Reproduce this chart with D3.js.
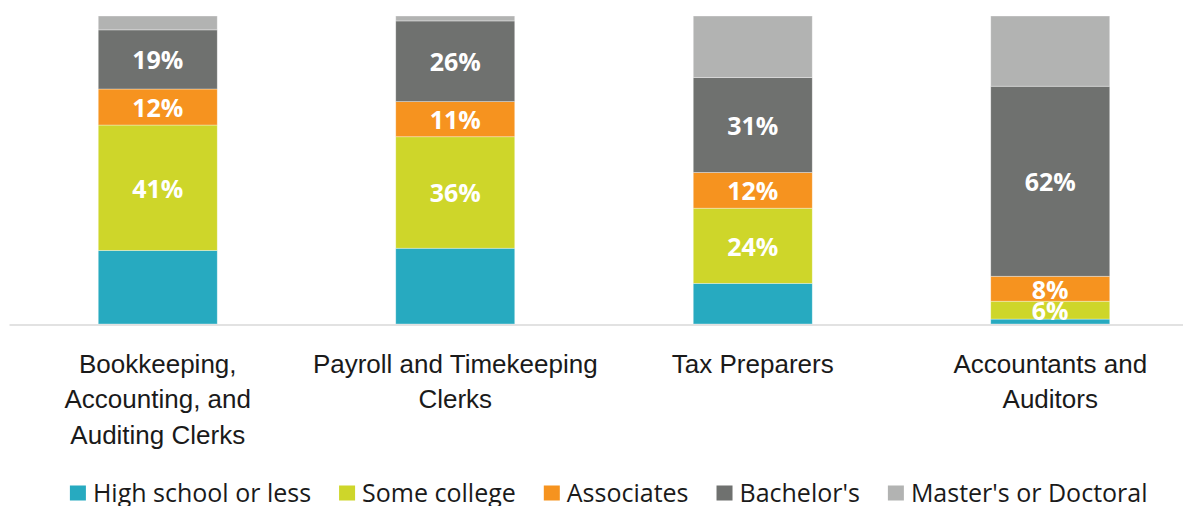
<!DOCTYPE html>
<html>
<head>
<meta charset="utf-8">
<script src="https://cdn.jsdelivr.net/npm/d3@7"></script>
<style>
  body { margin: 0; background: #fff; }
  svg { display: block; font-family: "Open Sans", sans-serif; }
</style>
</head>
<body>
<div id="chart"></div>
<script>
// chart values (percent of workers)
const categories = ["Bookkeeping, Accounting, and Auditing Clerks", "Payroll and Timekeeping Clerks", "Tax Preparers", "Accountants and Auditors"]
const tickLines = [["Bookkeeping,", "Accounting, and", "Auditing Clerks"], ["Payroll and Timekeeping", "Clerks"], ["Tax Preparers"], ["Accountants and", "Auditors"]]
const seriesNames = ["High school or less", "Some college", "Associates", "Bachelor's", "Master's or Doctoral"]
const highSchool = [23.9, 24.6, 13.2, 1.6]
const someCollege = [40.7, 36.2, 24.4, 5.8]
const associates = [11.7, 11.4, 11.6, 8.1]
const bachelors = [19.2, 26.2, 30.8, 61.7]
const masters = [4.5, 1.6, 20.0, 22.8]
const labelled = ["Some college", "Associates", "Bachelor's"]

const colors = ["#27aac0", "#ced62a", "#f6931f", "#6f716f", "#b2b3b2"]

const width = 1183
const height = 506

// rows for d3.stack
const seriesValues = [highSchool, someCollege, associates, bachelors, masters]
const rows = categories.map((c, i) => {
  const r = { category: c, idx: i }
  seriesNames.forEach((s, j) => r[s] = seriesValues[j][i])
  return r
})

const stacked = d3.stack()
  .keys(seriesNames)
  .offset(d3.stackOffsetExpand)(rows)

const svg = d3.select("#chart")
  .append("svg")
  .attr("width", width)
  .attr("height", height)

const x = d3.scaleBand()
  .domain(categories)
  .range([9, 1199])   // plot runs a bit past the right edge, like the original crop
  .paddingInner(0.6)
  .paddingOuter(0.3)

const y = d3.scaleLinear()
  .domain([0, 1])
  .range([324, 16])

const color = d3.scaleOrdinal()
  .domain(seriesNames)
  .range(colors)

// bars
const layer = svg.append("g")
  .selectAll("g")
  .data(stacked)
  .join("g")
    .attr("fill", d => color(d.key))

layer.selectAll("rect")
  .data(d => d)
  .join("rect")
    .attr("x", d => x(d.data.category))
    .attr("width", x.bandwidth())
    .attr("y", d => y(d[1]))
    .attr("height", d => y(d[0]) - y(d[1]))
    .attr("stroke", "#ffffff")
    .attr("stroke-opacity", 0.45)
    .attr("stroke-width", 0.75)

// data labels, only on the middle three series
const labelLayer = svg.append("g")
  .selectAll("g")
  .data(stacked.filter(s => labelled.includes(s.key)))
  .join("g")

labelLayer.selectAll("text")
  .data(d => d.map(p => ({ p: p, key: d.key })))
  .join("text")
    .attr("x", d => x(d.p.data.category) + x.bandwidth() / 2)
    .attr("y", d => (y(d.p[0]) + y(d.p[1])) / 2)
    .attr("dy", "0.4em")
    .attr("text-anchor", "middle")
    .attr("fill", "#fff")
    .style("font-size", "25px")
    .style("font-weight", "bold")
    .text(d => Math.round(d.p.data[d.key]) + "%")

// x axis
const xAxis = svg.append("g")
  .attr("transform", "translate(0,324.5)")
  .call(d3.axisBottom(x).tickSize(0).tickFormat(""))

xAxis.select(".domain")
  .attr("stroke", "#d9d9d9")
  .attr("stroke-width", 1.5)

xAxis.selectAll(".tick text").remove()
xAxis.selectAll(".tick")
  .append("text")
    .attr("text-anchor", "middle")
    .attr("fill", "#1a1a1a")
    .style("font-size", "26px")
    .selectAll("tspan")
    .data((d, i) => tickLines[i])
    .join("tspan")
      .attr("x", 0)
      .attr("y", (d, i) => 48 + i * 35.5)
      .text(d => d)

// legend
const legend = svg.append("g")
  .attr("transform", "translate(0,493)")

const items = legend.selectAll("g")
  .data(seriesNames)
  .join("g")

items.append("rect")
  .attr("y", -7.5)
  .attr("width", 16)
  .attr("height", 15)
  .attr("fill", d => color(d))

items.append("text")
  .attr("x", 23)
  .attr("dy", "0.35em")
  .attr("fill", "#1a1a1a")
  .style("font-size", "25px")
  .text(d => d)

let pos = 0
items.each(function() {
  const w = this.querySelector("text").getComputedTextLength()
  d3.select(this).attr("transform", "translate(" + pos + ",0)")
  pos += 23 + w + 28
})
const legendWidth = pos - 28
legend.attr("transform", "translate(" + (608.7 - legendWidth / 2) + ",493)")
</script>
</body>
</html>
